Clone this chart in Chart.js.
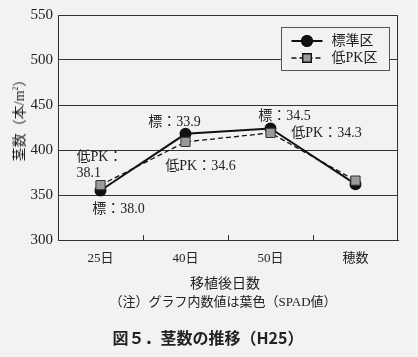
<!DOCTYPE html>
<html><head><meta charset="utf-8">
<script src="https://cdn.jsdelivr.net/npm/chart.js@4"></script>
<style>
html,body{margin:0;padding:0;background:#f2f2f2;}
#wrap{position:relative;width:418px;height:357px;overflow:hidden;background:#f2f2f2;}
canvas{position:absolute;left:0;top:0;}
.t{position:absolute;white-space:nowrap;color:#222;font-family:"Liberation Serif","Noto Sans CJK JP",serif;}
</style></head><body>
<div id="wrap">
<canvas id="c" width="418" height="357"></canvas>
<div class="t" id="ytitle" style="left:18px;top:117px;font-size:14px;transform:translate(-50%,-50%) rotate(-90deg);">茎数（本/m<sup style="font-size:8px;">2</sup>）</div>
<div class="t" style="left:225px;top:282px;font-size:14px;transform:translate(-50%,-50%);">移植後日数</div>
<div class="t" style="left:223px;top:300px;font-size:13px;transform:translate(-50%,-50%);">（注）グラフ内数値は葉色（SPAD値）</div>
<div class="t" style="left:208px;top:337px;font-size:16px;font-weight:bold;font-family:'Noto Sans CJK JP',sans-serif;transform:translate(-50%,-50%);">図５．茎数の推移（H25）</div>
</div>
<script>
const categories = ['25日','40日','50日','穂数'];
const stdValues = [355, 418, 424, 362];
const lowValues = [361, 409, 419, 366];
const stdSpad = ['38.0','33.9','34.5',null];
const lowSpad = ['38.1','34.6','34.3',null];
const yTicks = [300,350,400,450,500,550];
const seriesNames = ['標準区','低PK区'];

const SERIF = '"Liberation Serif","Noto Sans CJK JP",serif';
const INK = '#222';

// label placement relative to its point (pixels)
const labelPlacement = [
  {ds:0,i:0,dx:18,dy:19,align:'center'},
  {ds:1,i:0,dx:-24,dy:-28,align:'left',split:true},
  {ds:0,i:1,dx:-11,dy:-11,align:'center'},
  {ds:1,i:1,dx:15,dy:24,align:'center'},
  {ds:0,i:2,dx:14,dy:-12,align:'center'},
  {ds:1,i:2,dx:56,dy:0,align:'center'}
];

const framePlugin = {
  id:'frame',
  beforeDatasetsDraw(chart){
    const {ctx, chartArea:a, scales:{x}} = chart;
    ctx.save();
    ctx.strokeStyle = '#333'; ctx.lineWidth = 1;
    ctx.strokeRect(Math.round(a.left)+0.5, Math.round(a.top)+0.5, Math.round(a.right-a.left)-1, Math.round(a.bottom-a.top));
    for(let i=1;i<categories.length;i++){
      const px = Math.round((x.getPixelForValue(i-1)+x.getPixelForValue(i))/2)+0.5;
      ctx.beginPath(); ctx.moveTo(px,a.bottom); ctx.lineTo(px,a.bottom-5); ctx.stroke();
    }
    ctx.restore();
  },
  afterDatasetsDraw(chart){
    const {ctx} = chart;
    ctx.save();
    ctx.fillStyle = INK;
    ctx.font = '14px '+SERIF;
    ctx.textBaseline = 'middle';
    labelPlacement.forEach(p=>{
      const meta = chart.getDatasetMeta(p.ds);
      const pt = meta.data[p.i];
      const val = (p.ds===0?stdSpad:lowSpad)[p.i];
      const prefix = p.ds===0?'標：':'低PK：';
      ctx.textAlign = p.align;
      if(p.split){
        ctx.fillText(prefix, pt.x+p.dx, pt.y+p.dy);
        ctx.fillText(val, pt.x+p.dx, pt.y+p.dy+16);
      } else {
        ctx.fillText(prefix+val, pt.x+p.dx, pt.y+p.dy);
      }
    });
    ctx.restore();
  },
  afterDraw(chart){
    const {ctx, chartArea:a} = chart;
    const w=108,h=43;
    const bx = Math.round(a.right-117)+0.5, by = Math.round(a.top+12)+0.5;
    ctx.save();
    ctx.fillStyle = '#f2f2f2';
    ctx.fillRect(bx,by,w,h);
    ctx.strokeStyle = '#555'; ctx.lineWidth = 1;
    ctx.strokeRect(bx,by,w,h);
    const ds = chart.data.datasets;
    [0,1].forEach(k=>{
      const y = by + 13.5 + k*17;
      const d = ds[k];
      ctx.strokeStyle = '#111';
      ctx.lineWidth = d.borderWidth;
      ctx.setLineDash(d.borderDash||[]);
      ctx.beginPath(); ctx.moveTo(bx+10,y); ctx.lineTo(bx+41,y); ctx.stroke();
      ctx.setLineDash([]);
      Chart.helpers.drawPoint(ctx,{pointStyle:d.pointStyle,radius:k===0?5:6,borderWidth:1},bx+25.5,y);
      ctx.fillStyle = d.pointBackgroundColor;
      ctx.strokeStyle = '#111';
      ctx.fill(); ctx.stroke();
      ctx.fillStyle = INK;
      ctx.font = '14px '+SERIF;
      ctx.textAlign='left'; ctx.textBaseline='middle';
      ctx.fillText(seriesNames[k], bx+50, y);
    });
    ctx.restore();
  }
};

new Chart(document.getElementById('c'),{
  type:'line',
  data:{
    labels:categories,
    datasets:[
      {label:seriesNames[0],data:stdValues,borderColor:'#111',borderWidth:2,pointStyle:'circle',pointRadius:5,pointBackgroundColor:'#111',pointBorderColor:'#111',order:1},
      {label:seriesNames[1],data:lowValues,borderColor:'#111',borderWidth:1.3,borderDash:[5,3],pointStyle:'rect',pointRadius:6.5,pointBackgroundColor:'#9a9a9a',pointBorderColor:'#333',pointBorderWidth:1,order:0}
    ]
  },
  options:{
    responsive:false,animation:false,
    layout:{padding:{left:0,right:20,top:15,bottom:67}},
    plugins:{legend:{display:false},tooltip:{enabled:false}},
    scales:{
      x:{type:'category',offset:true,
        grid:{display:false,drawTicks:false},
        border:{display:true,color:'#333'},
        ticks:{font:{size:13,family:SERIF},color:INK,padding:11},
        afterFit(s){s.height=50;}
      },
      y:{min:300,max:550,
        afterBuildTicks(s){s.ticks=yTicks.map(v=>({value:v}));},
        grid:{color:'#333',drawTicks:false},
        border:{display:true,color:'#333'},
        ticks:{font:{size:15,family:SERIF},color:INK,padding:5},
        afterFit(s){s.width=58;}
      }
    }
  },
  plugins:[framePlugin]
});
</script>
</body></html>
